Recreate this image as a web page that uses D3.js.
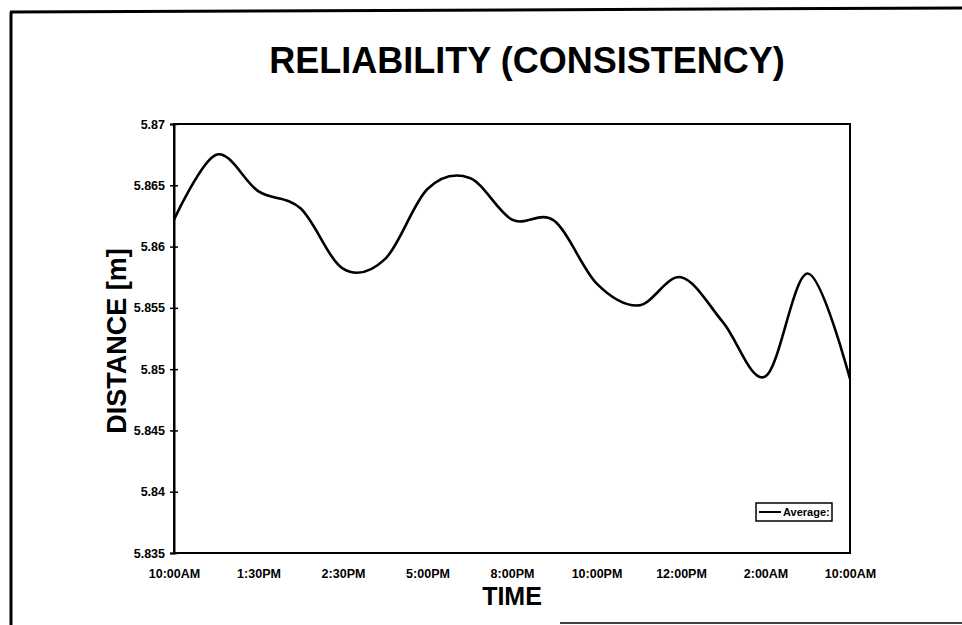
<!DOCTYPE html>
<html>
<head>
<meta charset="utf-8">
<script src="https://cdn.jsdelivr.net/npm/d3@7"></script>
<style>
  body { margin: 0; background: #fff; }
  svg text { font-family: "Liberation Sans", Arial, sans-serif; font-weight: bold; fill: #000; }
  .tick_lbl { font-size: 12.5px; }
</style>
</head>
<body>
<div id="chart"></div>
<script>
// time labels on the category axis (one every second reading)
var time_labels = ["10:00AM", "1:30PM", "2:30PM", "5:00PM", "8:00PM", "10:00PM", "12:00PM", "2:00AM", "10:00AM"];
// average distance readings [m]
var average_distance = [5.8622, 5.8675, 5.8645, 5.8631, 5.8582, 5.8590, 5.8647, 5.8656, 5.8622,
                        5.8621, 5.8570, 5.8552, 5.8575, 5.8538, 5.8494, 5.8578, 5.8492];
var y_ticks = [5.835, 5.84, 5.845, 5.85, 5.855, 5.86, 5.865, 5.87];
var y_tick_text = ["5.835", "5.84", "5.845", "5.85", "5.855", "5.86", "5.865", "5.87"];

var W = 962, H = 625;
var plot = { left: 174, right: 850, top: 124, bottom: 553 };

var svg = d3.select('#chart').append('svg').attr('width', W).attr('height', H);

// outer frame (left, top, part of bottom)
svg.append('line').attr('x1', 11).attr('y1', 12).attr('x2', 11).attr('y2', H).attr('stroke', '#000').attr('stroke-width', 3);
svg.append('line').attr('x1', 10).attr('y1', 12).attr('x2', W).attr('y2', 8).attr('stroke', '#000').attr('stroke-width', 3);
svg.append('line').attr('x1', 560).attr('y1', 623).attr('x2', W).attr('y2', 623).attr('stroke', '#000').attr('stroke-width', 1.5);

var x_scale = d3.scaleLinear().domain([0, average_distance.length - 1]).range([plot.left, plot.right]);
var y_scale = d3.scaleLinear().domain([5.835, 5.87]).range([plot.bottom, plot.top]);

// plot area box
svg.append('rect').attr('x', plot.left).attr('y', plot.top)
    .attr('width', plot.right - plot.left).attr('height', plot.bottom - plot.top)
    .attr('fill', 'none').attr('stroke', '#000').attr('stroke-width', 2);

// y axis with crossing ticks
var y_axis = svg.append('g').attr('transform', 'translate(' + plot.left + ',0)')
    .call(d3.axisLeft(y_scale).tickValues(y_ticks).tickSize(4).tickFormat((d, i) => y_tick_text[i]));
y_axis.attr('font-size', null).attr('font-family', null);
y_axis.select('.domain').attr('stroke-width', 2);
y_axis.selectAll('.tick line').attr('x2', 4).attr('x1', -4).attr('stroke-width', 1.5);
y_axis.selectAll('.tick text').attr('class', 'tick_lbl').attr('x', -9);

// x axis labels only
var tick_idx = time_labels.map((d, i) => i * 2);
var x_axis = svg.append('g').attr('transform', 'translate(0,' + plot.bottom + ')')
    .call(d3.axisBottom(x_scale).tickValues(tick_idx).tickSize(0).tickFormat((d, i) => time_labels[i]));
x_axis.attr('font-size', null).attr('font-family', null);
x_axis.select('.domain').remove();
x_axis.selectAll('.tick text').attr('class', 'tick_lbl').attr('y', 16);

// smoothed line
var line = d3.line().x((d, i) => x_scale(i)).y(d => y_scale(d)).curve(d3.curveCardinal.tension(0));
svg.append('path').datum(average_distance).attr('d', line)
    .attr('fill', 'none').attr('stroke', '#000').attr('stroke-width', 2.6).attr('stroke-linejoin', 'round');

// titles
svg.append('text').text('RELIABILITY (CONSISTENCY)').attr('x', 527).attr('y', 73)
    .attr('text-anchor', 'middle').style('font-size', '36px');
svg.append('text').text('TIME').attr('x', 512).attr('y', 605)
    .attr('text-anchor', 'middle').style('font-size', '25px');
svg.append('text').text('DISTANCE [m]').attr('transform', 'translate(126,341) rotate(-90)')
    .attr('text-anchor', 'middle').style('font-size', '27px');

// legend
var lg = svg.append('g').attr('transform', 'translate(756,503)');
lg.append('rect').attr('x', 0).attr('y', 0).attr('width', 76).attr('height', 18)
    .attr('fill', '#fff').attr('stroke', '#000').attr('stroke-width', 1.5);
lg.append('line').attr('x1', 3).attr('y1', 9).attr('x2', 25).attr('y2', 9).attr('stroke', '#000').attr('stroke-width', 2);
lg.append('text').text('Average:').attr('x', 27).attr('y', 13).style('font-size', '11px');
</script>
</body>
</html>
